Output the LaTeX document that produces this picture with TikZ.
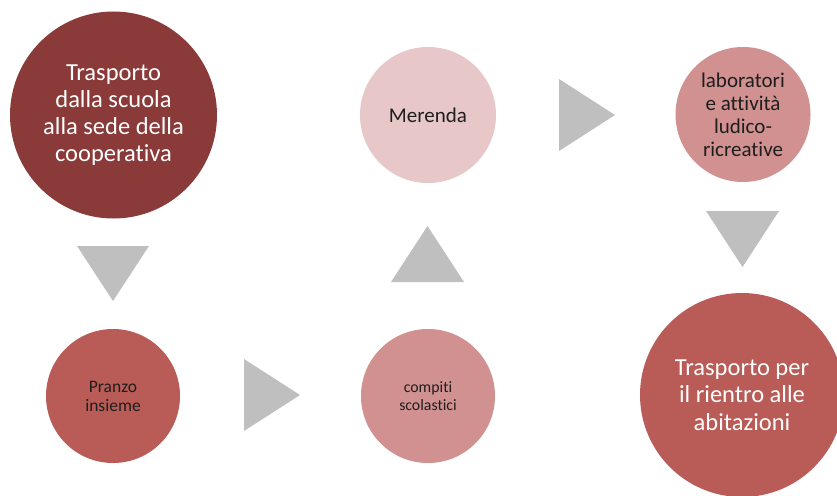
\documentclass[tikz,border=0pt]{standalone}
\usepackage{fontspec}
\setmainfont[Ligatures={NoCommon}]{Carlito}
\definecolor{cDark}{HTML}{8B3A3A}
\definecolor{cMid}{HTML}{B95B56}
\definecolor{cLight}{HTML}{D09190}
\definecolor{cPale}{HTML}{E7C7C7}
\definecolor{cTri}{HTML}{BFBFBF}
\definecolor{cTxt}{HTML}{1E1E1E}
\begin{document}
\begin{tikzpicture}[x=1pt,y=-1pt,
  stage/.style={circle,draw=none,inner sep=0pt,align=center},
  tri/.style={fill=cTri,draw=none}]
\useasboundingbox (0,0) rectangle (837,495);
\node[stage,fill=cDark,minimum size=207pt,text=white,font=\fontsize{24.5}{27}\selectfont] (a) at (113.5,115)
  {Trasporto\\dalla scuola\\alla sede della\\cooperativa};
\node[stage,fill=cMid,minimum size=134pt,text=cTxt,font=\fontsize{17.5}{19}\selectfont] (b) at (113,396)
  {Pranzo\\insieme};
\node[stage,fill=cLight,minimum size=134pt,text=cTxt,font=\fontsize{15.8}{17.3}\selectfont] (c) at (428,396)
  {compiti\\scolastici};
\node[stage,fill=cPale,minimum size=136pt,text=cTxt,font=\fontsize{21}{23}\selectfont] (d) at (428,115)
  {Merenda};
\node[stage,fill=cLight,minimum size=135pt,text=cTxt,font=\fontsize{21}{23}\selectfont] (e) at (743,114.5)
  {laboratori\\e attività\\ludico-\\ricreative};
\node[stage,fill=cMid,minimum size=204pt,text=white,font=\fontsize{24.5}{27.5}\selectfont] (f) at (742,395)
  {Trasporto per\\il rientro alle\\abitazioni};
\fill[tri] (77,246) -- (149,246) -- (113,301) -- cycle;
\fill[tri] (244,359) -- (244,431) -- (300,395) -- cycle;
\fill[tri] (391,282) -- (464,282) -- (427.5,226) -- cycle;
\fill[tri] (559,79) -- (559,151) -- (615,115) -- cycle;
\fill[tri] (706,211) -- (779,211) -- (742.5,267) -- cycle;
\end{tikzpicture}
\end{document}
